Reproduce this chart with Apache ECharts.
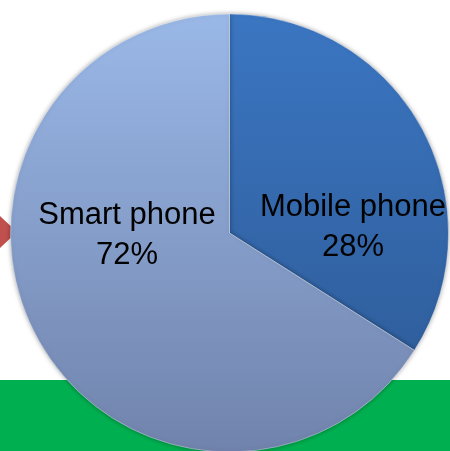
<!DOCTYPE html>
<html>
<head>
<meta charset="utf-8">
<script src="https://cdn.jsdelivr.net/npm/echarts@6/dist/echarts.min.js"></script>
<style>html,body{margin:0;padding:0;background:#fff}#c{width:450px;height:451px}</style>
</head>
<body>
<div id="c"></div>
<script>
// Data
var categories = ['Mobile phone', 'Smart phone'];
var sliceValues = [34, 66];          // slice sizes as drawn
var percentLabels = ['28%', '72%'];  // percentages printed on the slices

var sliceColors = [
  ['#3b76c2', '#2c5892'],
  ['#9ab8e7', '#7083ac']
];
var labelPos = [[353, 227], [127, 235]];

var chart = echarts.init(document.getElementById('c'), null, {renderer: 'canvas'});
var cx = 229.5, cy = 233, R = 219;

function grad(c) {
  return {
    type: 'linear', global: true,
    x: 0, y: cy - R, x2: 0, y2: cy + R,
    colorStops: [{offset: 0, color: c[0]}, {offset: 1, color: c[1]}]
  };
}

var data = categories.map(function (n, i) {
  return {
    name: n,
    value: sliceValues[i],
    itemStyle: {color: grad(sliceColors[i])}
  };
});

chart.setOption({
  animation: false,
  graphic: [
    {type: 'rect', z: -10, shape: {x: 0, y: 380, width: 450, height: 71}, style: {fill: '#00b050'}},
    {type: 'polygon', z: -10, shape: {points: [[0, 216], [17, 232], [0, 248]]}, style: {fill: '#c0504d'}}
  ],
  series: [{
    type: 'pie',
    center: [cx, cy],
    radius: [0, R],
    startAngle: 90,
    clockwise: true,
    data: data,
    itemStyle: {
      borderColor: 'rgba(255,255,255,0.35)',
      borderWidth: 1,
      shadowBlur: 5,
      shadowColor: 'rgba(0,0,0,0.35)'
    },
    label: {
      show: true,
      position: 'inside',
      formatter: function (p) { return p.name + '\n' + percentLabels[p.dataIndex]; },
      fontFamily: 'Liberation Sans, Arial, sans-serif',
      fontSize: 31,
      lineHeight: 40,
      color: '#000',
      align: 'center',
      verticalAlign: 'middle'
    },
    labelLine: {show: false},
    labelLayout: function (p) {
      var pos = labelPos[p.dataIndex];
      return {x: pos[0], y: pos[1], align: 'center', verticalAlign: 'middle'};
    },
    emphasis: {disabled: true}
  }]
});
</script>
</body>
</html>
